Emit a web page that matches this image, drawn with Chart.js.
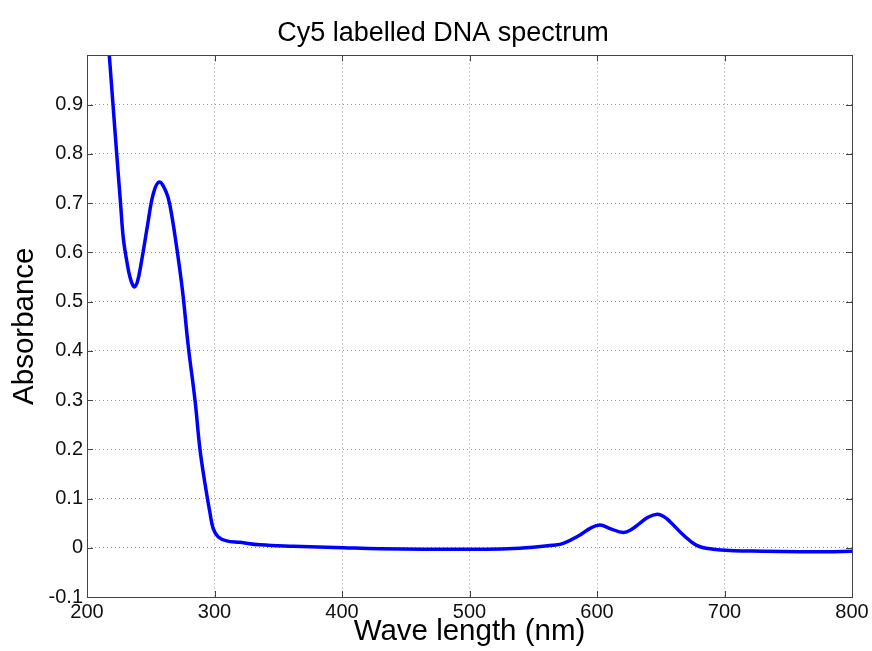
<!DOCTYPE html>
<html lang="en">
<head>
  <meta charset="UTF-8">
  <title>Cy5 labelled DNA spectrum</title>
  <script src="https://cdn.jsdelivr.net/npm/chart.js"></script>
  <style>
    html, body { margin: 0; padding: 0; background: #fff; }
    #wrap { width: 872px; height: 651px; }
  </style>
</head>
<body>
<div id="wrap">
  <canvas id="spectrumChart" width="872" height="651"></canvas>
</div>

<script>
  // wavelength (nm) and absorbance
  var wavelength = [210, 214, 217.5, 220.4, 223.3, 226.3, 228.5, 231.1, 233.7, 236.9, 239.5, 242.9, 247.3, 252, 256.7,
    262, 265.1, 270.3, 275, 279.4, 284.7, 288.6, 292.5, 296.5, 299, 303, 309.5, 320, 335.7, 361.8,
    401, 430, 464, 500, 530, 550, 565, 573.6, 586.7, 595, 602.4, 610.2, 620.6, 627, 633.7, 640,
    647.3, 652, 657.3, 667.7, 678.2, 691.2, 706.9, 730, 759.2, 780, 800];
  var absorbance = [1.24, 1.12, 1.0, 0.9, 0.8, 0.7, 0.628, 0.584, 0.550, 0.530, 0.540, 0.584, 0.652, 0.719, 0.743,
    0.723, 0.695, 0.611, 0.520, 0.410, 0.300, 0.200, 0.131, 0.070, 0.039, 0.022, 0.014, 0.011, 0.006, 0.003,
    0.0, -0.002, -0.003, -0.003, -0.002, 0.001, 0.005, 0.009, 0.026, 0.040, 0.046, 0.039, 0.031, 0.037, 0.050, 0.062,
    0.068, 0.064, 0.053, 0.026, 0.005, -0.003, -0.006, -0.007, -0.008, -0.008, -0.007];

  var xMin = 200, xMax = 800, xStep = 100;
  var yMin = -0.1, yMax = 1.0, yStep = 0.1;

  var points = wavelength.map(function (w, i) { return {x: w, y: absorbance[i]}; });

  var fontFamily = 'Arial, "Liberation Sans", Helvetica, sans-serif';

  // matlab style box with inward tick marks
  var boxPlugin = {
    id: 'matlabBox',
    afterDraw: function (chart) {
      var ctx = chart.ctx, a = chart.chartArea;
      var xs = chart.scales.x, ys = chart.scales.y;
      var len = 6;
      ctx.save();
      ctx.strokeStyle = '#444';
      ctx.lineWidth = 1;
      ctx.beginPath();
      xs.ticks.forEach(function (t) {
        var px = Math.round(xs.getPixelForValue(t.value)) + 0.5;
        ctx.moveTo(px, a.bottom); ctx.lineTo(px, a.bottom - len);
        ctx.moveTo(px, a.top); ctx.lineTo(px, a.top + len);
      });
      ys.ticks.forEach(function (t) {
        var py = Math.round(ys.getPixelForValue(t.value)) + 0.5;
        ctx.moveTo(a.left, py); ctx.lineTo(a.left + len, py);
        ctx.moveTo(a.right, py); ctx.lineTo(a.right - len, py);
      });
      ctx.stroke();
      ctx.strokeRect(Math.round(a.left) + 0.5, Math.round(a.top) + 0.5,
        Math.round(a.right - a.left), Math.round(a.bottom - a.top));
      ctx.restore();
    }
  };

  var ctx = document.getElementById('spectrumChart').getContext('2d');
  window.spectrumChart = new Chart(ctx, {
    type: 'line',
    data: {
      datasets: [{
        label: 'Absorbance',
        data: points,
        borderColor: '#0000ff',
        borderWidth: 3.5,
        pointRadius: 0,
        fill: false,
        tension: 0.4
      }]
    },
    options: {
      responsive: false,
      animation: false,
      layout: {
        // left padding shifts the title centre to where the reference has it
        padding: {left: 34, right: 20, top: 0, bottom: 0}
      },
      plugins: {
        legend: { display: false },
        tooltip: { enabled: false },
        title: {
          display: true,
          text: 'Cy5 labelled DNA spectrum',
          color: '#000',
          font: { family: fontFamily, size: 27, weight: 'normal' },
          padding: { top: 17, bottom: 6 }
        }
      },
      scales: {
        x: {
          type: 'linear',
          min: xMin,
          max: xMax,
          afterFit: function (scale) { scale.height = 54; },
          ticks: {
            stepSize: xStep,
            color: '#111',
            font: { family: fontFamily, size: 20 },
            padding: 3,
            maxRotation: 0
          },
          grid: {
            color: 'rgba(0,0,0,0.4)',
            drawTicks: false
          },
          border: { display: false, dash: [1, 3] },
          title: {
            display: true,
            text: 'Wave length (nm)',
            color: '#000',
            font: { family: fontFamily, size: 29.5 },
            padding: { top: 0, bottom: 1 }
          }
        },
        y: {
          min: yMin,
          max: yMax,
          afterFit: function (scale) { scale.width = 53; },
          ticks: {
            stepSize: yStep,
            color: '#111',
            font: { family: fontFamily, size: 20 },
            padding: 4,
            callback: function (v) {
              var r = Number(v.toFixed(1));
              if (r >= 1) return '';
              return r.toString();
            }
          },
          grid: {
            color: 'rgba(0,0,0,0.4)',
            drawTicks: false
          },
          border: { display: false, dash: [1, 3] },
          title: {
            display: true,
            text: 'Absorbance',
            color: '#000',
            font: { family: fontFamily, size: 29.5 },
            padding: { top: -27, bottom: 0 }
          }
        }
      }
    },
    plugins: [boxPlugin]
  });
</script>
</body>
</html>
